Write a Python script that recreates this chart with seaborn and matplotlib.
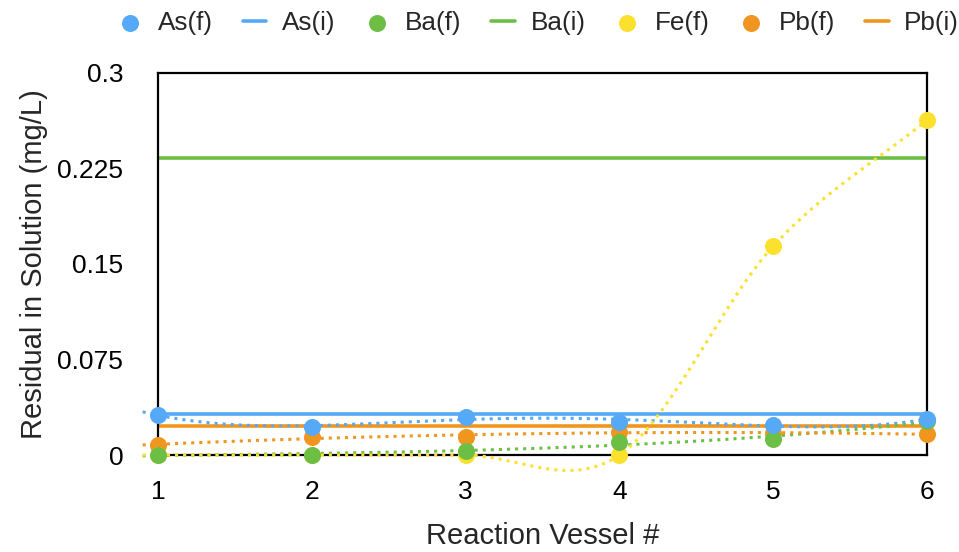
import numpy as np
import matplotlib
matplotlib.use('Agg')
import matplotlib.pyplot as plt
import seaborn as sns

# data
vessels = [1, 2, 3, 4, 5, 6]
as_final = [0.0314, 0.0222, 0.0296, 0.0262, 0.0236, 0.0280]
ba_final = [0.0, 0.0, 0.0034, 0.0104, 0.0123, 0.0265]
fe_final = [0.0, 0.0, 0.0, 0.0, 0.164, 0.263]
pb_final = [0.0079, 0.0144, 0.0144, 0.0183, 0.0170, 0.0165]
as_initial = 0.0325
ba_initial = 0.233
pb_initial = 0.023

y_ticks = [0, 0.075, 0.15, 0.225, 0.3]
y_tick_labels = ["0", "0.075", "0.15", "0.225", "0.3"]
legend_order = ["As(f)", "As(i)", "Ba(f)", "Ba(i)", "Fe(f)", "Pb(f)", "Pb(i)"]

colors = {"As": "#55A9F6", "Ba": "#6DBE45", "Fe": "#FCE02E", "Pb": "#F0961F"}


def poly_trend(x, y, deg, x0=0.9, x1=6.0):
    coef = np.polyfit(x, y, deg)
    xs = np.linspace(x0, x1, 200)
    return xs, np.polyval(coef, xs)


def smooth_curve(x, y, x0=0.9, n=40):
    # catmull-rom style smoothing through the points
    x = np.asarray(x, float)
    y = np.asarray(y, float)
    m = np.gradient(y, x)
    xs = [x0, x[0]]
    ys = [y[0] + m[0] * (x0 - x[0]), y[0]]
    for i in range(len(x) - 1):
        dx = x[i + 1] - x[i]
        t = np.linspace(0, 1, n)[1:]
        h00 = 2 * t**3 - 3 * t**2 + 1
        h10 = t**3 - 2 * t**2 + t
        h01 = -2 * t**3 + 3 * t**2
        h11 = t**3 - t**2
        xs.extend(x[i] + t * dx)
        ys.extend(h00 * y[i] + h10 * dx * m[i] + h01 * y[i + 1] + h11 * dx * m[i + 1])
    return np.array(xs), np.array(ys)


sns.set_theme(style="white")
plt.rcParams['font.family'] = ['Liberation Sans', 'DejaVu Sans']

fig = plt.figure(figsize=(9.59, 5.52), dpi=100)
ax = fig.add_axes([0.1648, 0.1757, 0.8018, 0.6921])

# initial concentrations (flat lines)
for name, val, key in [("Ba(i)", ba_initial, "Ba"), ("As(i)", as_initial, "As"), ("Pb(i)", pb_initial, "Pb")]:
    sns.lineplot(x=vessels, y=[val] * len(vessels), color=colors[key], lw=2.6,
                 label=name, ax=ax, zorder=2, estimator=None)

# trend lines
trends = [
    (poly_trend(vessels, as_final, 4), "As"),
    (poly_trend(vessels, ba_final, 3), "Ba"),
    (poly_trend(vessels, pb_final, 2), "Pb"),
    (smooth_curve(vessels, fe_final), "Fe"),
]
for (xs, ys), key in trends:
    sns.lineplot(x=xs, y=ys, color=colors[key], lw=2.2, ax=ax, zorder=3,
                 sort=False, estimator=None)
    ax.lines[-1].set_linestyle(':')
    ax.lines[-1].set_clip_on(False)

# final concentrations (points)
for name, vals, key in [("Pb(f)", pb_final, "Pb"), ("Fe(f)", fe_final, "Fe"),
                        ("Ba(f)", ba_final, "Ba"), ("As(f)", as_final, "As")]:
    sns.scatterplot(x=vessels, y=vals, color=colors[key], s=150, linewidth=0,
                    label=name, ax=ax, zorder=4, clip_on=False)

ax.set_xlim(1, 6)
ax.set_ylim(0, 0.3)
ax.set_xticks(vessels)
ax.set_yticks(y_ticks)
ax.set_yticklabels(y_tick_labels)
ax.tick_params(direction='in', length=6, width=1.6, labelsize=19, color='black', labelcolor='black')
ax.tick_params(axis='y', pad=25)
ax.tick_params(axis='x', pad=18)
for sp in ax.spines.values():
    sp.set_color('black')
    sp.set_linewidth(1.6)
    sp.set_visible(True)

ax.set_xlabel("Reaction Vessel #", fontsize=21, labelpad=13)
ax.set_ylabel("Residual in Solution (mg/L)", fontsize=21, labelpad=7)

handles, labels = ax.get_legend_handles_labels()
lookup = dict(zip(labels, handles))
ax.get_legend().remove()
fig.legend([lookup[k] for k in legend_order], legend_order, loc='center', ncol=7,
           bbox_to_anchor=(0.562, 0.958), frameon=False, fontsize=18.8,
           handlelength=0.9, handletextpad=0.6, columnspacing=1.15)

fig.savefig("out.png", dpi=100)
